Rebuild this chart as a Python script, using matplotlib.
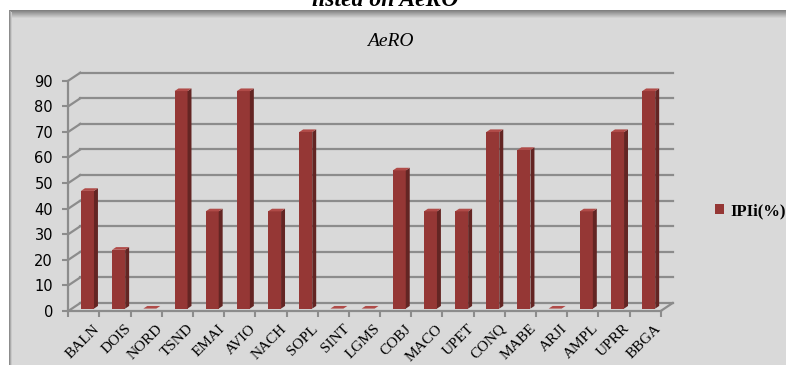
import matplotlib.pyplot as plt
from matplotlib.patches import Rectangle
import numpy as np

# datos del grafico
categorias = ["BALN", "DOIS", "NORD", "TSND", "EMAI", "AVIO", "NACH", "SOPL", "SINT", "LGMS",
              "COBJ", "MACO", "UPET", "CONQ", "MABE", "ARJI", "AMPL", "UPRR", "BBGA"]
valores = [46, 23, 0, 85, 38, 85, 38, 69, 0, 0, 54, 38, 38, 69, 62, 0, 38, 69, 85]
ticks_y = [0, 10, 20, 30, 40, 50, 60, 70, 80, 90]
serie = "IPIi(%)"

W, H = 789, 365
fig = plt.figure(figsize=(W / 100, H / 100), dpi=100, facecolor="white")

# fondo del area del grafico con sombra arriba e izquierda
fig.patches.append(Rectangle((9 / W, 0), 1 - 12 / W, 1 - 10 / H, transform=fig.transFigure,
                             facecolor="#d9d9d9", edgecolor="none", zorder=-5))
for k in range(8):
    c = 0.50 + k * 0.045
    fig.patches.append(Rectangle((9 / W, 1 - (11 + k) / H), 1 - 12 / W, 1 / H,
                                 transform=fig.transFigure, facecolor=(c, c, c),
                                 edgecolor="none", zorder=-4))
for k in range(3):
    c = 0.55 + k * 0.12
    fig.patches.append(Rectangle(((9 + k) / W, 0), 1 / W, 1 - (10 + k) / H,
                                 transform=fig.transFigure, facecolor=(c, c, c),
                                 edgecolor="none", zorder=-4))

# titulo de arriba, cortado por el borde (como en la imagen original)
fig.text(385 / W, 1 - 1 / H, "listed on AeRO", ha="center", va="center",
         family="Liberation Serif", weight="bold", style="italic", fontsize=17)
fig.text(390 / W, 1 - 42 / H, "AeRO", ha="center", va="center",
         family="Liberation Serif", style="italic", fontsize=14)

ax = fig.add_axes([68.3 / W, (H - 311) / H, 592.4 / W, 230.3 / H])
ax.set_facecolor("none")
ax.set_zorder(2)
n = len(categorias)
ax.set_xlim(-0.5, n - 0.5)
ax.set_ylim(0, 90)
for s in ax.spines.values():
    s.set_visible(False)

# profundidad (en unidades de datos)
D = 12 / 31.18
P = 8 / 2.559
gris = "#8c8c8c"

# pared de fondo, pared izquierda y suelo
for v in ticks_y:
    ax.plot([-0.5, -0.5 + D], [v, v + P], color=gris, lw=1.6, clip_on=False, zorder=1)
    ax.plot([-0.5 + D, n - 0.5 + D], [v + P, v + P], color=gris, lw=1.6, clip_on=False, zorder=1)
ax.plot([-0.5, -0.5], [0, 90], color=gris, lw=1.6, clip_on=False, zorder=1)
ax.plot([-0.5, n - 0.5], [0, 0], color=gris, lw=1.6, clip_on=False, zorder=1)
ax.plot([n - 0.5, n - 0.5 + D], [0, P], color=gris, lw=1.6, clip_on=False, zorder=1)

# barras en falso 3D
f = 0.3
w = 13 / 31.18
d = 0.33 * D
e = 0.33 * P
x = np.arange(n) + f * D
base = f * P
ax.bar(x, valores, width=w, bottom=base, color="#953735", edgecolor="none", zorder=3,
       clip_on=False, label=serie)
for xi, v in zip(x, valores):
    ax.fill([xi + w / 2, xi + w / 2 + d, xi + w / 2 + d, xi + w / 2],
            [base, base + e, base + v + e, base + v], color="#632523", lw=0, zorder=3,
            clip_on=False)
    ax.fill([xi - w / 2, xi + w / 2, xi + w / 2 + d, xi - w / 2 + d],
            [base + v, base + v, base + v + e, base + v + e], color="#b04b48", lw=0,
            zorder=4, clip_on=False)

# ejes y etiquetas
ax.set_yticks(ticks_y)
ax.set_yticklabels([str(t) for t in ticks_y], family="DejaVu Sans", fontsize=10.5)
ax.tick_params(axis="y", length=4, width=1.5, color=gris, pad=7)
ax.set_xticks(np.arange(n) + 0.3)
ax.set_xticklabels(categorias, rotation=45, ha="right", rotation_mode="anchor",
                   family="Liberation Serif", fontsize=11)
ax.tick_params(axis="x", length=0, pad=8)
ax.set_xticks(np.arange(n + 1) - 0.5, minor=True)
ax.tick_params(axis="x", which="minor", length=4, width=1.5, color=gris)

leg = fig.legend(loc="center left", bbox_to_anchor=(715 / W, 1 - 211 / H), frameon=False,
                 borderaxespad=0, borderpad=0,
                 handlelength=0.55, handleheight=0.55, handletextpad=0.35,
                 prop={"family": "Liberation Serif", "weight": "bold", "size": 12})

fig.savefig("out.png", dpi=100, facecolor="white")
